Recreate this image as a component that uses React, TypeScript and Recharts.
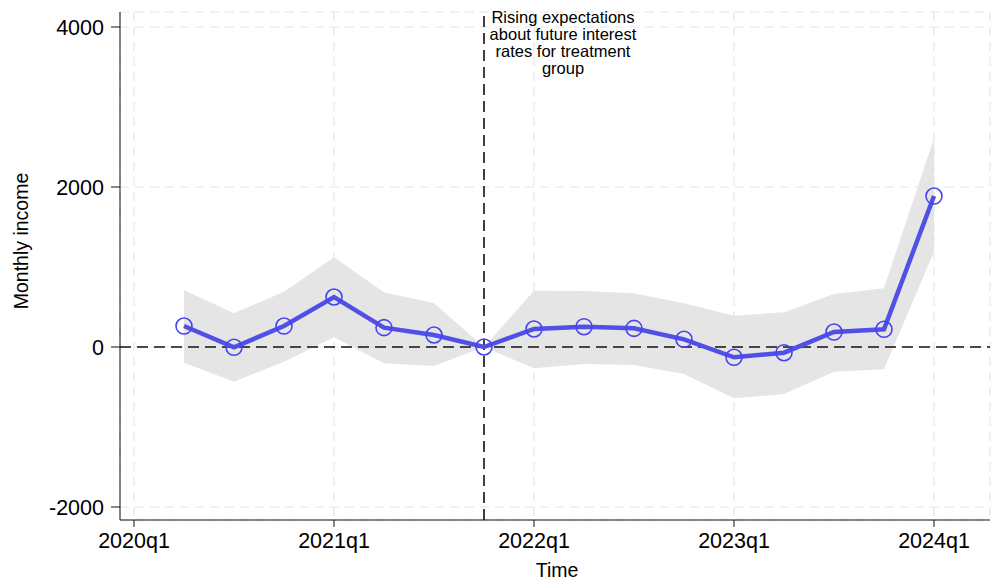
import React from 'react';
import {
  ComposedChart,
  Area,
  Line,
  XAxis,
  YAxis,
  CartesianGrid,
  ReferenceLine,
} from 'recharts';

// quarter index: 0 = 2020q1
const quarters = [1, 2, 3, 4, 5, 6, 7, 8, 9, 10, 11, 12, 13, 14, 15, 16];
const estimate = [262, -4, 262, 625, 242, 150, 0, 225, 254, 233, 96, -129, -71, 187, 221, 1887];
const upper = [712, 421, 692, 1121, 683, 546, 0, 704, 700, 671, 546, 392, 433, 662, 733, 2608];
const lower = [-196, -433, -183, 121, -204, -237, 0, -267, -212, -225, -337, -642, -587, -308, -279, 1192];

const xTicks = [0, 4, 8, 12, 16];
const xTickLabels = ['2020q1', '2021q1', '2022q1', '2023q1', '2024q1'];
const yTicks = [-2000, 0, 2000, 4000];
const eventQuarter = 7;
const eventNote = ['Rising expectations', 'about future interest', 'rates for treatment', 'group'];

const data = quarters.map((q, i) => ({
  q,
  est: estimate[i],
  ci: [lower[i], upper[i]],
}));

const FONT = '"Liberation Sans", Arial, sans-serif';
const BLUE = '#5050e6';

const EventLabel = (props: any) => {
  const vb = props.viewBox || {};
  const cx = vb.x + 79;
  return (
    <text x={cx} y={23} textAnchor="middle" fontFamily={FONT} fontSize={16.5} fill="#000">
      {eventNote.map((line, i) => (
        <tspan key={i} x={cx} dy={i === 0 ? 0 : 17}>
          {line}
        </tspan>
      ))}
    </text>
  );
};

const YTitle = () => (
  <text
    x={28}
    y={241}
    transform="rotate(-90 28 241)"
    textAnchor="middle"
    fontFamily={FONT}
    fontSize={19.5}
    fill="#000"
  >
    Monthly income
  </text>
);

const XTitle = () => (
  <text x={557} y={577} textAnchor="middle" fontFamily={FONT} fontSize={19.5} fill="#000">
    Time
  </text>
);

export default function App() {
  return (
    <div style={{ width: 994, height: 582 }}>
      <style>{'body{margin:0}'}</style>
      <ComposedChart
        width={994}
        height={582}
        data={data}
        margin={{ top: 12, right: 4, left: 0, bottom: 0 }}
        style={{ fontFamily: FONT }}
      >
        <CartesianGrid stroke="#e6e6e6" strokeDasharray="9 6" strokeWidth={1.2} />
        <XAxis
          dataKey="q"
          type="number"
          domain={[-0.28, 17.12]}
          ticks={xTicks}
          allowDataOverflow
          tickFormatter={(v: number) => xTickLabels[xTicks.indexOf(v)]}
          height={62}
          stroke="#111"
          tickSize={7}
          tickMargin={6}
          tick={{ fontSize: 21.5, fill: '#000', fontFamily: FONT }}
          label={<XTitle />}
        />
        <YAxis
          type="number"
          domain={[-2162.5, 4187.5]}
          ticks={yTicks}
          allowDataOverflow
          width={120}
          stroke="#111"
          tickSize={9}
          tickMargin={7}
          tick={{ fontSize: 21.5, fill: '#000', fontFamily: FONT }}
          label={<YTitle />}
        />
        <Area
          type="linear"
          dataKey="ci"
          stroke="none"
          fill="#e5e5e5"
          fillOpacity={1}
          isAnimationActive={false}
        />
        <ReferenceLine y={0} stroke="#111" strokeWidth={1.6} strokeDasharray="11 6" />
        <ReferenceLine
          x={eventQuarter}
          stroke="#111"
          strokeWidth={1.6}
          strokeDasharray="11 6"
          label={<EventLabel />}
        />
        <Line
          type="linear"
          dataKey="est"
          stroke={BLUE}
          strokeWidth={4.5}
          dot={{ r: 8, stroke: '#4444f0', strokeWidth: 1.6, fill: 'none' }}
          activeDot={false}
          isAnimationActive={false}
        />
      </ComposedChart>
    </div>
  );
}
